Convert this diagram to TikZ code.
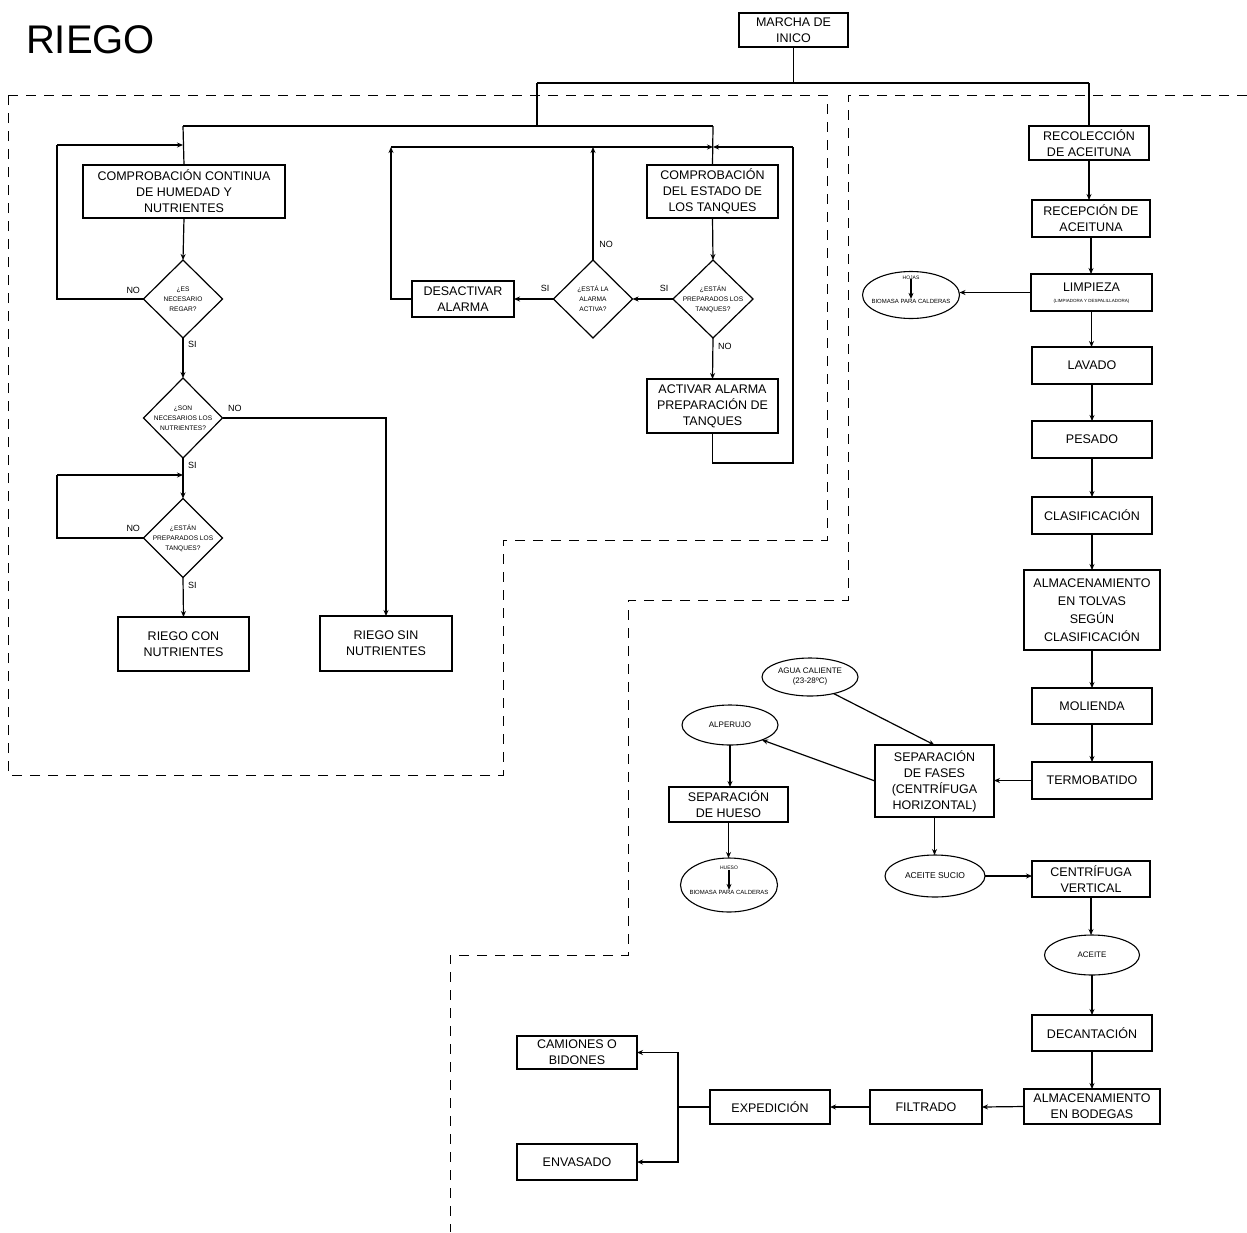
\documentclass[tikz,border=0pt]{standalone}
\usepackage{fontspec}
\setmainfont{Liberation Sans}
\usetikzlibrary{shapes.geometric,arrows.meta}
\begin{document}
\begin{tikzpicture}[x=1pt,y=-1pt,
  every node/.style={inner sep=0pt, outer sep=0pt},
  box/.style={draw, line width=1.4pt, align=center, font=\fontsize{12.5}{16}\selectfont},
  dia/.style={draw, line width=1.2pt, diamond, shape aspect=1},
  dtext/.style={align=center, font=\fontsize{6.6}{10}\selectfont},
  ell/.style={draw, line width=1.1pt, ellipse, align=center},
  lbl/.style={font=\fontsize{9}{10}\selectfont},
  conn/.style={line width=1.2pt},
  arr/.style={line width=1.2pt, -{Stealth[length=6pt,width=5pt]}},
  region/.style={line width=1pt, dash pattern=on 10pt off 8pt}
]
\useasboundingbox (0,0) rectangle (1247,1232);

% title
\node[anchor=west, font=\fontsize{40}{44}\selectfont] (title) at (26,40) {RIEGO};

% dashed regions
\draw[region] (8,95) -- (827,95) -- (827,540) -- (503,540) -- (503,775) -- (8,775) -- cycle;
\draw[region] (1247,95) -- (848,95) -- (848,600) -- (628,600) -- (628,955) -- (450,955) -- (450,1232);

% top
\node[box, minimum width=109, minimum height=34] (marcha) at (793.5,30) {MARCHA DE\\INICO};

% left irrigation flow
\node[box, minimum width=202, minimum height=53] (cc) at (184,191.5) {COMPROBACIÓN CONTINUA\\DE HUMEDAD Y\\NUTRIENTES};
\node[dia, minimum width=79, minimum height=78, label={[dtext]center:{¿ES\\NECESARIO\\REGAR?}}] (d1) at (183,299) {};
\node[dia, minimum width=79, minimum height=80, label={[dtext]center:{¿SON\\NECESARIOS LOS\\NUTRIENTES?}}] (d2) at (183,418) {};
\node[dia, minimum width=79, minimum height=79, label={[dtext]center:{¿ESTÁN\\PREPARADOS LOS\\TANQUES?}}] (d3) at (183,538) {};
\node[box, minimum width=131, minimum height=54] (rcn) at (183.5,644) {RIEGO CON\\NUTRIENTES};
\node[box, minimum width=132, minimum height=55] (rsn) at (386,643.5) {RIEGO SIN\\NUTRIENTES};

\node[box, minimum width=131, minimum height=53] (ce) at (712.5,191.5) {COMPROBACIÓN\\DEL ESTADO DE\\LOS TANQUES};
\node[dia, minimum width=80, minimum height=78, label={[dtext]center:{¿ESTÁN\\PREPARADOS LOS\\TANQUES?}}] (d4) at (713,299) {};
\node[dia, minimum width=79, minimum height=78, label={[dtext]center:{¿ESTÁ LA\\ALARMA\\ACTIVA?}}] (d5) at (593,299) {};
\node[box, minimum width=102, minimum height=36] (des) at (463,299) {DESACTIVAR\\ALARMA};
\node[box, minimum width=131, minimum height=54] (act) at (712.5,406) {ACTIVAR ALARMA\\PREPARACIÓN DE\\TANQUES};

% right production flow
\node[box, minimum width=120, minimum height=34] (rec) at (1089,143) {RECOLECCIÓN\\DE ACEITUNA};
\node[box, minimum width=118, minimum height=37] (recep) at (1091,218.5) {RECEPCIÓN DE\\ACEITUNA};
\node[box, minimum width=121, minimum height=37] (limp) at (1091.5,292.5) {};
\node[font=\fontsize{12.5}{14}\selectfont] (limpt) at (1091.5,287) {LIMPIEZA};
\node[font=\fontsize{4.5}{5}\selectfont] (limps) at (1091.5,301.5) {(LIMPIADORA Y DESPALILLADORA)};
\node[ell, minimum width=97, minimum height=47] (hojas) at (911,295) {};
\node[font=\fontsize{5}{6}\selectfont] (hojast) at (911,277.5) {HOJAS};
\node[font=\fontsize{6}{7}\selectfont] (bio1) at (911,301) {BIOMASA PARA CALDERAS};
\node[box, minimum width=120, minimum height=37] (lav) at (1092,365.5) {LAVADO};
\node[box, minimum width=120, minimum height=37] (pes) at (1092,439.5) {PESADO};
\node[box, minimum width=120, minimum height=37] (clas) at (1092,515.5) {CLASIFICACIÓN};
\node[box, minimum width=136, minimum height=80, font=\fontsize{12.5}{18}\selectfont] (tolv) at (1092,610) {ALMACENAMIENTO\\EN TOLVAS\\SEGÚN\\CLASIFICACIÓN};
\node[box, minimum width=120, minimum height=36] (mol) at (1092,706) {MOLIENDA};
\node[box, minimum width=120, minimum height=37] (termo) at (1092,780.5) {TERMOBATIDO};
\node[box, minimum width=119, minimum height=72] (sep) at (934.5,781) {SEPARACIÓN\\DE FASES\\(CENTRÍFUGA\\HORIZONTAL)};
\node[ell, minimum width=96, minimum height=38, font=\fontsize{8}{10}\selectfont] (agua) at (810,677) {AGUA CALIENTE\\(23-28ºC)};
\node[ell, minimum width=96, minimum height=40, font=\fontsize{8}{10}\selectfont] (alp) at (730,725) {ALPERUJO};
\node[box, minimum width=119, minimum height=35] (sh) at (728.5,804.5) {SEPARACIÓN\\DE HUESO};
\node[ell, minimum width=97, minimum height=54] (hueso) at (729,885) {};
\node[font=\fontsize{5}{6}\selectfont] (huesot) at (729,868) {HUESO};
\node[font=\fontsize{6}{7}\selectfont] (bio2) at (729,892) {BIOMASA PARA CALDERAS};
\node[ell, minimum width=100, minimum height=42, font=\fontsize{8.5}{10}\selectfont] (asuc) at (935,876) {ACEITE SUCIO};
\node[box, minimum width=118, minimum height=36] (cv) at (1091,879) {CENTRÍFUGA\\VERTICAL};
\node[ell, minimum width=95, minimum height=40, font=\fontsize{8}{10}\selectfont] (aceite) at (1092,955) {ACEITE};
\node[box, minimum width=120, minimum height=36] (dec) at (1092,1033) {DECANTACIÓN};
\node[box, minimum width=136, minimum height=35] (bod) at (1092,1106.5) {ALMACENAMIENTO\\EN BODEGAS};
\node[box, minimum width=112, minimum height=34] (fil) at (926,1107) {FILTRADO};
\node[box, minimum width=120, minimum height=34] (exp) at (770,1107) {EXPEDICIÓN};
\node[box, minimum width=120, minimum height=33] (cam) at (577,1052.5) {CAMIONES O\\BIDONES};
\node[box, minimum width=120, minimum height=36] (env) at (577,1162) {ENVASADO};

% junction coordinates
\coordinate (jL) at (537,83);
\coordinate (jR) at (1089,83);
\coordinate (jM) at (537,126);
\coordinate (jA) at (183,126);
\coordinate (jB) at (713,126);
\coordinate (rA) at (391,147);
\coordinate (rB) at (593,147);
\coordinate (rC) at (713,147);
\coordinate (rD) at (793,147);
\coordinate (lp1) at (57,145);
\coordinate (lp1e) at (183,145);
\coordinate (lp3) at (57,475);
\coordinate (lp3e) at (183,475);
\coordinate (jx) at (678,1107);

% top connectors
\draw[conn] (marcha.south) -- (marcha.south |- jL);
\draw[conn] (jL) -- (jR);
\draw[conn] (jR) -- (rec.north);
\draw[conn] (jL) -- (jM);
\draw[conn] (jA) -- (jB);
\draw[conn] (jA) -- (cc.north);
\draw[conn] (jB) -- (ce.north);

% irrigation connectors
\draw[arr] (cc.south) -- (d1.north);
\draw[conn] (d1.west) -| (lp1);
\draw[arr] (lp1) -- (lp1e);
\node[lbl, anchor=east] (no1) at (140,290) {NO};
\draw[arr] (d1.south) -- (d2.north);
\node[lbl, anchor=west] (si1) at (188,344) {SI};
\draw[arr] (d2.south) -- (d3.north);
\node[lbl, anchor=west] (si2) at (188,465) {SI};
\draw[arr] (d2.east) -| (rsn.north);
\node[lbl, anchor=west] (no2) at (228,408) {NO};
\draw[conn] (d3.west) -| (lp3);
\draw[arr] (lp3) -- (lp3e);
\node[lbl, anchor=east] (no3) at (140,528) {NO};
\draw[arr] (d3.south) -- (rcn.north);
\node[lbl, anchor=west] (si3) at (188,585) {SI};

% tank connectors
\draw[arr] (ce.south) -- (d4.north);
\draw[arr] (d4.west) -- (d5.east);
\node[lbl] (si4) at (664,288) {SI};
\draw[arr] (d5.west) -- (des.east);
\node[lbl] (si5) at (545,288) {SI};
\draw[arr] (d5.north) -- (rB);
\node[lbl] (no5) at (606,244) {NO};
\draw[arr] (des.west) -| (rA);
\draw[arr] (rA) -- (rC);
\draw[arr] (d4.south) -- (act.north);
\node[lbl, anchor=west] (no4) at (718,346) {NO};
\draw[conn] (act.south) -- ++(0,30) -| (rD);
\draw[arr] (rD) -- (rC);

% production connectors
\draw[arr] (rec.south) -- (rec.south |- recep.north);
\draw[arr] (recep.south) -- (recep.south |- limp.north);
\draw[arr] (limp.west) -- (limp.west -| hojas.east);
\draw[arr] (hojast.south) -- (bio1.north);
\draw[arr] (limp.south) -- (limp.south |- lav.north);
\draw[arr] (lav.south) -- (pes.north);
\draw[arr] (pes.south) -- (clas.north);
\draw[arr] (clas.south) -- (tolv.north);
\draw[arr] (tolv.south) -- (mol.north);
\draw[arr] (mol.south) -- (termo.north);
\draw[arr] (termo.west) -- (termo.west -| sep.east);
\draw[arr] (agua.-35) -- (sep.north);
\draw[arr] (sep.west) -- (alp.-25);
\draw[arr] (alp.south) -- (alp.south |- sh.north);
\draw[arr] (sh.south) -- (sh.south |- hueso.north);
\draw[arr] (huesot.south) -- (bio2.north);
\draw[arr] (sep.south) -- (sep.south |- asuc.north);
\draw[arr] (asuc.east) -- (asuc.east -| cv.west);
\draw[arr] (cv.south) -- (cv.south |- aceite.north);
\draw[arr] (aceite.south) -- (dec.north);
\draw[arr] (dec.south) -- (bod.north);
\draw[arr] (bod.west) -- (fil.east);
\draw[arr] (fil.west) -- (exp.east);
\draw[conn] (exp.west) -- (jx);
\draw[arr] (jx) |- (cam.east);
\draw[arr] (jx) |- (env.east);
\end{tikzpicture}
\end{document}
